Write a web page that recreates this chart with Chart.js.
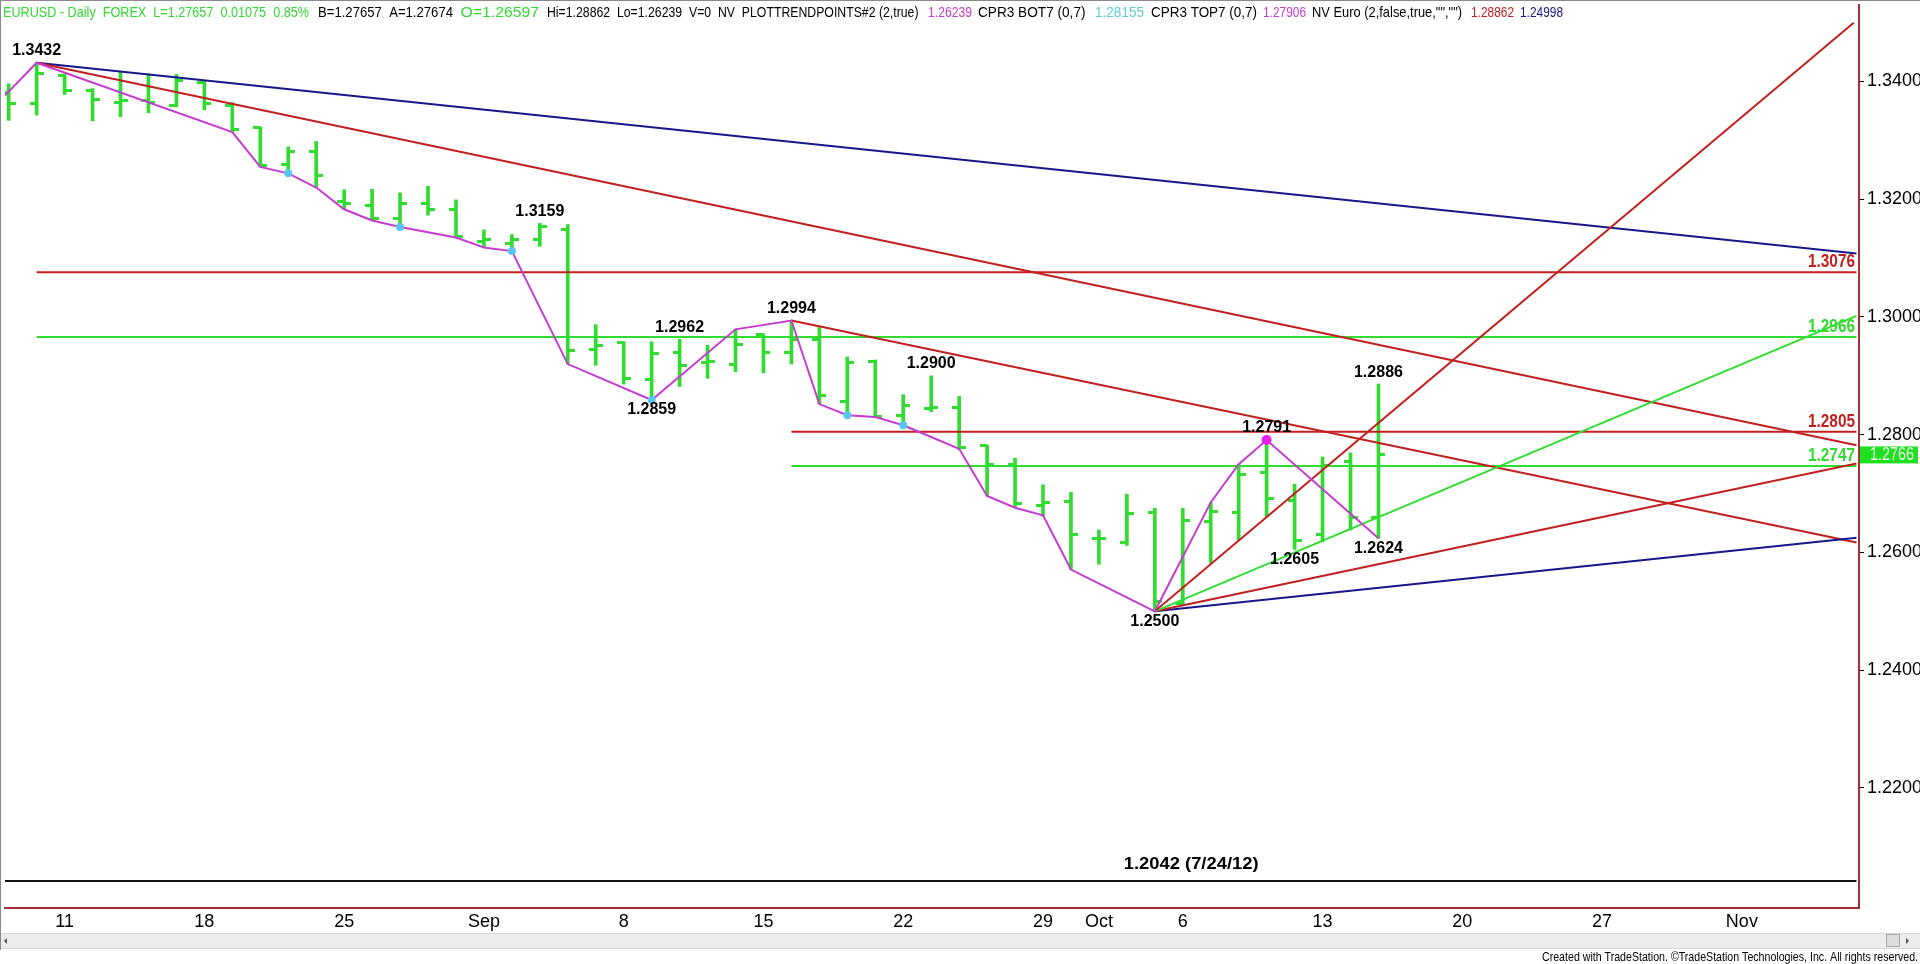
<!DOCTYPE html>
<html><head><meta charset="utf-8">
<script src="https://cdn.jsdelivr.net/npm/chart.js@4.4.1/dist/chart.umd.min.js"></script>
<style>html,body{margin:0;padding:0;background:#fff;overflow:hidden}</style>
</head><body>
<canvas id="c" width="1920" height="964"></canvas>
<script>
// ---------------- DATA ----------------
const dates = ['Aug 7','Aug 8','Aug 11','Aug 12','Aug 13','Aug 14','Aug 15','Aug 18','Aug 19','Aug 20','Aug 21','Aug 22',
  'Aug 25','Aug 26','Aug 27','Aug 28','Aug 29','Sep 1','Sep 2','Sep 3','Sep 4','Sep 5','Sep 8','Sep 9','Sep 10','Sep 11','Sep 12',
  'Sep 15','Sep 16','Sep 17','Sep 18','Sep 19','Sep 22','Sep 23','Sep 24','Sep 25','Sep 26','Sep 29','Sep 30','Oct 1','Oct 2','Oct 3',
  'Oct 6','Oct 7','Oct 8','Oct 9','Oct 10','Oct 13','Oct 14','Oct 15'];
const opens  = [1.3382,1.3363,1.3410,1.3385,1.3365,1.3368,1.3359,1.3399,1.3359,1.3322,1.3259,1.3281,
  1.3196,1.3190,1.3168,1.3193,1.3182,1.3128,1.3124,1.3131,1.3148,1.2944,1.2957,1.2893,1.2940,1.2923,1.2920,
  1.2971,1.2940,1.2962,1.2857,1.2924,1.2833,1.2845,1.2847,1.2781,1.2749,1.2679,1.2686,1.2623,1.2617,1.2668,
  1.2514,1.2652,1.2668,1.2735,1.2689,1.2630,1.2754,1.26597];
const highs  = [1.3396,1.3432,1.3413,1.3388,1.3416,1.3413,1.3412,1.3402,1.3364,1.3323,1.3289,1.3298,
  1.3216,1.3217,1.3211,1.3222,1.3199,1.3148,1.3140,1.3159,1.3157,1.2987,1.2958,1.2958,1.2962,1.2952,1.2979,
  1.2971,1.2994,1.2982,1.2932,1.2927,1.2868,1.2900,1.2865,1.2782,1.2760,1.2715,1.2702,1.2638,1.2699,1.2675,
  1.2675,1.2685,1.2750,1.2791,1.2716,1.2762,1.2769,1.28862];
const lows   = [1.3334,1.3343,1.3378,1.3333,1.3340,1.3347,1.3357,1.3352,1.3314,1.3255,1.3242,1.3220,
  1.3183,1.3164,1.3153,1.3173,1.3134,1.3118,1.3110,1.3120,1.2920,1.2918,1.2886,1.2859,1.2882,1.2896,1.2907,
  1.2905,1.2920,1.2852,1.2833,1.2830,1.2815,1.2839,1.2775,1.2696,1.2676,1.2661,1.2571,1.2580,1.2612,1.2500,
  1.2510,1.2582,1.2621,1.2661,1.2605,1.2618,1.2638,1.26239];
const closes = [1.3362,1.3413,1.3384,1.3370,1.3368,1.3365,1.3402,1.3362,1.3318,1.3258,1.3281,1.3241,
  1.3192,1.3168,1.3193,1.3182,1.3137,1.3131,1.3131,1.3154,1.2943,1.2951,1.2895,1.2938,1.2917,1.2925,1.2954,
  1.2940,1.2962,1.2866,1.2922,1.2831,1.2849,1.2846,1.2778,1.2749,1.2683,1.2685,1.2630,1.2623,1.2666,1.2516,
  1.2654,1.2669,1.2733,1.2691,1.2621,1.2747,1.2659,1.27657];

// x-axis labels (bar index -> label)
const xTickIdx  = [2,7,12,17,22,27,32,37,39,42,47,52,57,62];
const xTickText = ['11','18','25','Sep','8','15','22','29','Oct','6','13','20','27','Nov'];
const yTickVals = [1.22,1.24,1.26,1.28,1.30,1.32,1.34];

// swing (trend point) line: bar index / price
const swingIdx = [-1,1,8,9,10,11,12,13,14,16,17,18,20,23,26,28,29,30,31,32,34,35,36,37,38,41,43,44,45,49];
const swingVal = [1.3334,1.3432,1.3314,1.3255,1.3244,1.3220,1.3183,1.3164,1.3153,1.3135,1.3118,1.3112,1.2920,1.2859,
  1.2979,1.2994,1.2852,1.2833,1.2830,1.2816,1.2776,1.2696,1.2676,1.2663,1.2571,1.2500,1.2685,1.2750,1.2791,1.2624];
const cyanIdx = [10,14,18,23,30,32];
const cyanVal = [1.3244,1.3153,1.3112,1.2859,1.2833,1.2816];
const pivotIdx = [45], pivotVal = [1.2791];

// trend lines [startIdx, startPrice, endIdx, endPrice]
const lineBlueUpper  = [1, 1.3432, 66.1, 1.3108];
const lineRedUpper   = [1, 1.3432, 66.1, 1.2782];
const lineRedMid     = [28, 1.2994, 66.1, 1.2617];
const lineBlueLower  = [41, 1.2500, 66.1, 1.2625];
const lineRedLowRise = [41, 1.2500, 66.1, 1.2751];
const lineGreenRise  = [41, 1.2500, 66.1, 1.3002];
const lineRedSteep   = [41, 1.2500, 66.0, 1.3500];
// horizontal levels [startIdx, price, endIdx]
const levelRed1   = [1, 1.3076, 66.1];
const levelGreen1 = [1, 1.2966, 66.1];
const levelRed2   = [28, 1.2805, 66.1];
const levelGreen2 = [28, 1.2747, 66.1];
const levelBlack  = [-0.5, 1.2042, 66.1];
const levelBlackText = '1.2042 (7/24/12)';
const levelBlackTextIdx = 42.3;

// price labels on swings
const swingLabelIdx = [1,19,23,24,28,33,45,49,46,49,41];
const swingLabelVal = [1.3432,1.3159,1.2859,1.2962,1.2994,1.2900,1.2791,1.2886,1.2605,1.2624,1.2500];
const swingLabelSide= ['hi','hi','lo','hi','hi','hi','hi','hi','lo','lo','lo'];

// ---------------- STYLE ----------------
const GREEN='#30dc30', RED='#c21f1f', NAVY='#17178c', MAG='#c63cd0', CYAN='#58c6ee';
const AXIS='#a33030';
const NARROW='"Liberation Sans Narrow","Arial Narrow","Liberation Sans",Arial,sans-serif';
const SANS='"Liberation Sans",Arial,sans-serif';

function tickCanvas(left){
  const c=document.createElement('canvas'); c.width=14; c.height=3;
  const g=c.getContext('2d'); g.fillStyle=GREEN; g.fillRect(left?0:7,0,7,3); return c;
}
const leftTick=tickCanvas(true), rightTick=tickCanvas(false);

function seg(a,color,width){
  return {type:'line', data:[{x:a[0],y:a[1]},{x:a[2],y:a[3]}], borderColor:color, borderWidth:width||2,
    pointRadius:0, tension:0, fill:false};
}
function lvl(a,color,width){ return seg([a[0],a[1],a[2],a[1]],color,width); }

function fitText(ctx,text,x,y,w,font,color,align){
  ctx.save(); ctx.font=font; ctx.fillStyle=color; ctx.textBaseline='middle'; ctx.textAlign='left';
  const m=ctx.measureText(text).width; const s=w/m;
  const x0 = align==='center'? x-w/2 : align==='right'? x-w : x;
  ctx.translate(x0,y); ctx.scale(s,1); ctx.fillText(text,0,0); ctx.restore();
}

const header = [
  ['EURUSD - Daily  FOREX  L=1.27657  0.01075  0.85%', GREEN, 3, 306],
  ['B=1.27657  A=1.27674', '#000', 318, 135],
  ['O=1.26597', GREEN, 460.5, 78.5],
  ['Hi=1.28862  Lo=1.26239  V=0  NV  PLOTTRENDPOINTS#2 (2,true)', '#000', 547, 371.5],
  ['1.26239', MAG, 928, 44],
  ['CPR3 BOT7 (0,7)', '#000', 978, 107.5],
  ['1.28155', '#5ccfd6', 1095, 49],
  ['CPR3 TOP7 (0,7)', '#000', 1151, 106],
  ['1.27906', MAG, 1263, 43],
  ['NV Euro (2,false,true,"","")', '#000', 1312, 150],
  ['1.28862', RED, 1471, 43],
  ['1.24998', NAVY, 1520, 43]
];

const deco = {
  id:'deco',
  beforeDraw(chart){ const c=chart.ctx; c.save(); c.fillStyle='#fff'; c.fillRect(0,0,chart.width,chart.height); c.restore(); },
  afterDraw(chart){
    const c=chart.ctx, xs=chart.scales.x, ys=chart.scales.y, a=chart.chartArea;
    header.forEach(h=>fitText(c,h[0],h[2],12.5,h[3],'15px '+SANS,h[1],'left'));
    [[levelRed1,RED],[levelGreen1,GREEN],[levelRed2,RED],[levelGreen2,GREEN]].forEach(l=>{
      const y=ys.getPixelForValue(l[0][1]);
      fitText(c,l[0][1].toFixed(4),a.right-4,y-10,47,'bold 18px '+SANS,l[1],'right');
    });
    fitText(c,levelBlackText,xs.getPixelForValue(levelBlackTextIdx),ys.getPixelForValue(levelBlack[1])-16.5,134.7,'bold 16px '+SANS,'#000','center');
    swingLabelIdx.forEach((ix,k)=>{
      const v=swingLabelVal[k]; const y=ys.getPixelForValue(v)+(swingLabelSide[k]==='hi'?-12:10);
      fitText(c,v.toFixed(4),xs.getPixelForValue(ix),y,49,'bold 16px '+SANS,'#000','center');
    });
    const last=closes[closes.length-1], py=ys.getPixelForValue(last);
    c.save(); c.fillStyle='#1fe01f'; c.fillRect(a.right+1,py-8.5,58,17); c.restore();
    fitText(c,last.toFixed(4),a.right+11,py,44,'18px '+SANS,'#eaffea','left');
    c.save(); c.strokeStyle='#8a8a8a'; c.lineWidth=1;
    c.beginPath(); c.moveTo(0,0.5); c.lineTo(chart.width,0.5); c.moveTo(0.5,0); c.lineTo(0.5,950); c.stroke();
    c.fillStyle='#ececec'; c.fillRect(1,933,chart.width-1,16);
    c.strokeStyle='#d6d6d6'; c.beginPath(); c.moveTo(1,933.5); c.lineTo(chart.width,933.5); c.moveTo(1,948.5); c.lineTo(chart.width,948.5); c.stroke();
    c.fillStyle='#555'; c.beginPath(); c.moveTo(4,941); c.lineTo(7,938); c.lineTo(7,944); c.closePath(); c.fill();
    c.beginPath(); c.moveTo(1909,941); c.lineTo(1906,938); c.lineTo(1906,944); c.closePath(); c.fill();
    c.fillStyle='#dcdcdc'; c.fillRect(1886,934,14,13); c.strokeStyle='#a8a8a8'; c.strokeRect(1886.5,934.5,13,12);
    c.restore();
    fitText(c,'Created with TradeStation. ©TradeStation Technologies, Inc. All rights reserved.',1918,957,376,'13px '+SANS,'#000','right');
  }
};

new Chart(document.getElementById('c'), {
  type:'line',
  data:{datasets:[
    {type:'scatter', data:cyanIdx.map((x,k)=>({x, y:cyanVal[k]})), pointRadius:4, pointBackgroundColor:CYAN, pointBorderWidth:0},
    {type:'scatter', data:pivotIdx.map((x,k)=>({x, y:pivotVal[k]})), pointRadius:5, pointBackgroundColor:'#e81ee8', pointBorderWidth:0},
    {type:'line', data:swingIdx.map((x,k)=>({x, y:swingVal[k]})), borderColor:MAG, borderWidth:2, pointRadius:0, tension:0, fill:false},
    seg(lineRedSteep,RED), seg(lineGreenRise,GREEN), seg(lineRedLowRise,RED), seg(lineBlueLower,NAVY),
    seg(lineRedMid,RED), seg(lineRedUpper,RED), seg(lineBlueUpper,NAVY),
    lvl(levelRed1,RED), lvl(levelGreen1,GREEN), lvl(levelRed2,RED), lvl(levelGreen2,GREEN), lvl(levelBlack,'#111'),
    {type:'scatter', data:closes.map((y,x)=>({x,y})), pointStyle:rightTick, pointRadius:3},
    {type:'scatter', data:opens.map((y,x)=>({x,y})), pointStyle:leftTick, pointRadius:3},
    {type:'bar', data:dates.map((d,x)=>({x, y:[lows[x],highs[x]]})), backgroundColor:GREEN, barThickness:3, borderWidth:0}
  ]},
  options:{
    responsive:false, animation:false, events:[],
    layout:{padding:{top:1,left:2,right:0,bottom:0}},
    plugins:{legend:{display:false}, tooltip:{enabled:false}},
    scales:{
      x:{type:'linear', position:'bottom', min:-0.132, max:66.19, offset:false,
         grid:{display:false, drawTicks:false}, border:{display:true, color:AXIS, width:2},
         afterBuildTicks:s=>{s.ticks=xTickIdx.map(v=>({value:v}));},
         afterFit:s=>{s.height=56; s.paddingLeft=0; s.paddingRight=0;},
         ticks:{autoSkip:false, maxRotation:0, padding:3, color:'#000', font:{family:NARROW, size:18},
           callback:v=>xTickText[xTickIdx.indexOf(v)]}},
      y:{type:'linear', position:'right', min:1.1996, max:1.3530,
         grid:{display:true, drawOnChartArea:false, drawTicks:true, tickLength:5, tickColor:'#000', tickWidth:1},
         border:{display:true, color:AXIS, width:2},
         afterBuildTicks:s=>{s.ticks=yTickVals.map(v=>({value:v}));},
         afterFit:s=>{s.width=61; s.paddingTop=0; s.paddingBottom=0;},
         ticks:{padding:3, color:'#000', font:{family:NARROW, size:18}, callback:v=>v.toFixed(4)}}
    }
  },
  plugins:[deco]
});
</script>
</body></html>
